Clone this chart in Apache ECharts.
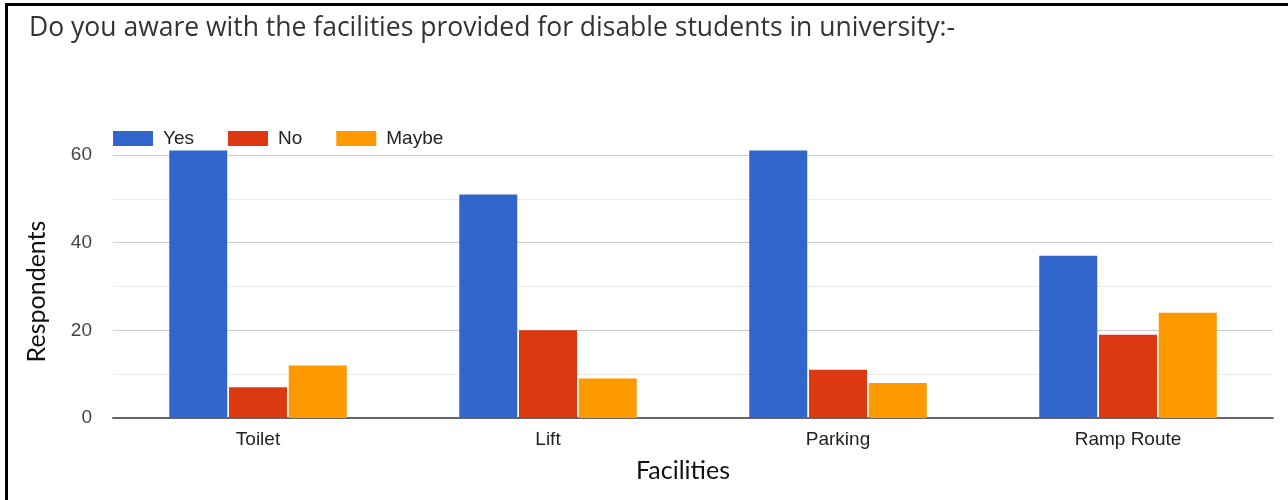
<!DOCTYPE html>
<html lang="en">
<head>
    <meta charset="UTF-8">
    <title>Facilities awareness</title>
    <script src="https://cdn.jsdelivr.net/npm/echarts@6/dist/echarts.min.js"></script>
    <style>
        html, body { margin: 0; padding: 0; background: #fff; }
        #chart { width: 1288px; height: 500px; }
        /* frame around the chart, like the screenshot */
        .frame {
            position: absolute; left: 5px; top: 3px; width: 1290px; height: 510px;
            border-top: 3px solid #000; border-left: 3px solid #000;
            pointer-events: none;
        }
    </style>
</head>
<body>
    <div id="chart"></div>
    <div class="frame"></div>
<script>
// data
var categories = ['Toilet', 'Lift', 'Parking', 'Ramp Route'];
var yesData = [61, 51, 61, 37];
var noData = [7, 20, 11, 19];
var maybeData = [12, 9, 8, 24];
var yTicks = [0, 20, 40, 60];

var myChart = echarts.init(document.getElementById('chart'));

function barSeries(name, data, color) {
    return {
        name: name,
        type: 'bar',
        data: data,
        barWidth: 58,
        barGap: '3%',
        clip: false,
        itemStyle: { color: color }
    };
}

var option = {
    animation: false,
    title: {
        text: 'Do you aware with the facilities provided for disable students in university:-',
        left: 29,
        top: 15,
        padding: 0,
        textStyle: { fontFamily: 'Open Sans', fontSize: 26.5, fontWeight: 'normal', color: '#333' }
    },
    legend: {
        left: 113,
        top: 129,
        padding: 0,
        icon: 'rect',
        itemWidth: 40,
        itemHeight: 15,
        itemGap: 34,
        textStyle: { fontFamily: 'Arial', fontSize: 19, color: '#222', padding: [0, 0, 0, 5] }
    },
    grid: { left: 113, right: 15, top: 155, bottom: 82 },
    xAxis: {
        type: 'category',
        data: categories,
        name: 'Facilities',
        nameLocation: 'middle',
        nameGap: 40,
        nameTextStyle: { fontFamily: 'Lato', fontSize: 25, color: '#111', padding: [0, 20, 0, 0] },
        axisLine: { lineStyle: { color: '#666', width: 2 } },
        axisTick: { show: false },
        axisLabel: { fontFamily: 'Arial', fontSize: 19, color: '#222', margin: 12 }
    },
    yAxis: {
        type: 'value',
        min: yTicks[0],
        max: yTicks[yTicks.length - 1],
        interval: 20,
        name: 'Respondents',
        nameLocation: 'middle',
        nameGap: 64,
        nameTextStyle: { fontFamily: 'Lato', fontSize: 25, color: '#111', padding: [0, 10, 0, 0] },
        axisLine: { show: false },
        axisTick: { show: false },
        axisLabel: { fontFamily: 'Arial', fontSize: 19, color: '#444', margin: 21 },
        splitLine: { lineStyle: { color: '#ccc', width: 1 } },
        minorTick: { show: false, splitNumber: 2 },
        minorSplitLine: { show: true, lineStyle: { color: '#ebebeb', width: 1 } }
    },
    series: [
        barSeries('Yes', yesData, '#3366cc'),
        barSeries('No', noData, '#dc3912'),
        barSeries('Maybe', maybeData, '#ff9900')
    ]
};
myChart.setOption(option);
</script>
</body>
</html>
